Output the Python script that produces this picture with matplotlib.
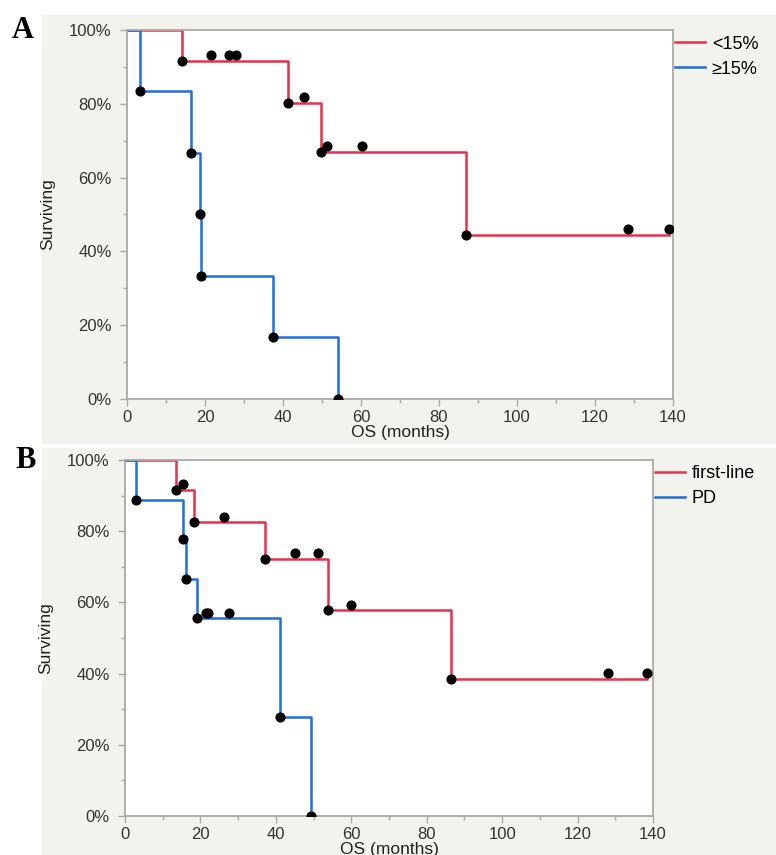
import matplotlib

matplotlib.use("Agg")
import matplotlib.pyplot as plt
import numpy as np
from matplotlib.lines import Line2D
from matplotlib.patches import Rectangle
from matplotlib.ticker import MultipleLocator, PercentFormatter

# panel A: OS by marker level
a_low_times = [14.0, 21.5, 26.2, 28.0, 41.4, 45.4, 49.7, 51.4, 60.2, 86.9, 128.5, 138.9]
a_low_events = [1, 0, 0, 0, 1, 0, 1, 0, 0, 1, 0, 0]
a_high_times = [3.3, 16.4, 18.7, 19.0, 37.4, 54.2]
a_high_events = [1, 1, 1, 1, 1, 1]
a_labels = ["<15%", "≥15%"]

# panel B: OS by treatment line
b_first_times = [13.5, 15.3, 18.4, 26.3, 37.1, 45.1, 51.1, 53.9, 59.9, 86.5, 128.2, 138.4]
b_first_events = [1, 0, 1, 0, 1, 0, 0, 1, 0, 1, 0, 0]
b_pd_times = [2.9, 15.3, 16.2, 19.0, 21.5, 22.1, 27.7, 41.0, 49.3]
b_pd_events = [1, 1, 1, 1, 0, 0, 0, 1, 1]
b_labels = ["first-line", "PD"]

RED = "#e8304c"
BLUE = "#1f6fdc"
GRID_GRAY = "#a9a9a9"
PANEL_BG = "#f3f3ee"
CENSOR_LIFT = 0.016

W, H = 776, 855


def kaplan_meier(times, events):
    order = np.argsort(times, kind="stable")
    t = np.asarray(times)[order]
    e = np.asarray(events)[order]
    at_risk = len(t)
    s = 1.0
    xs, ys = [0.0], [1.0]
    ev_pts, cens_pts = [], []
    for ti, ei in zip(t, e):
        if ei:
            s *= (at_risk - 1) / at_risk
            xs.append(ti)
            ys.append(s)
            ev_pts.append((ti, s))
        else:
            cens_pts.append((ti, s))
        at_risk -= 1
    xs.append(t[-1])
    ys.append(s)
    return xs, ys, ev_pts, cens_pts


def draw_curve(ax, times, events, color):
    xs, ys, ev_pts, cens_pts = kaplan_meier(times, events)
    ax.plot(xs, ys, drawstyle="steps-post", color=color, lw=1.8, zorder=2)
    if ev_pts:
        ex, ey = zip(*ev_pts)
        ax.plot(ex, ey, "o", color="black", ms=6.3, zorder=3)
    if cens_pts:
        cx, cy = zip(*cens_pts)
        ax.plot(cx, np.array(cy) + CENSOR_LIFT, "o", color="black", ms=6.3, zorder=3)


def style_axes(ax):
    ax.set_xlim(0, 140)
    ax.set_ylim(0, 1)
    ax.xaxis.set_major_locator(MultipleLocator(20))
    ax.xaxis.set_minor_locator(MultipleLocator(10))
    ax.yaxis.set_major_locator(MultipleLocator(0.2))
    ax.yaxis.set_minor_locator(MultipleLocator(0.1))
    ax.yaxis.set_major_formatter(PercentFormatter(1.0, decimals=0))
    for sp in ax.spines.values():
        sp.set_color(GRID_GRAY)
        sp.set_linewidth(1.3)
    ax.tick_params(which="major", length=5, width=1, color=GRID_GRAY,
                   labelsize=12, labelcolor="#333333")
    ax.tick_params(which="minor", length=3, width=1, color=GRID_GRAY)
    ax.tick_params(axis="y", which="major", pad=6)
    ax.tick_params(axis="x", which="major", pad=3)
    ax.set_xlabel("OS (months)", fontsize=12.5, color="#222222", labelpad=0)
    ax.set_ylabel("Surviving", fontsize=12.5, color="#222222", labelpad=10)


def add_legend(ax, labels, dy):
    handles = [Line2D([], [], color=RED, lw=1.8), Line2D([], [], color=BLUE, lw=1.8)]
    ax.legend(handles, labels, loc="upper left", bbox_to_anchor=(1.003, dy),
              frameon=False, fontsize=13, handlelength=1.7, handletextpad=0.35,
              labelspacing=0.45, borderpad=0, borderaxespad=0)


plt.rcParams["font.family"] = ["Liberation Sans", "DejaVu Sans"]

fig = plt.figure(figsize=(W / 100, H / 100), dpi=100, facecolor="white")

# grey panel backgrounds
fig.patches.append(Rectangle((42 / W, 1 - 443 / H), 1 - 42 / W, 428 / H,
                             transform=fig.transFigure, color=PANEL_BG, zorder=-1))
fig.patches.append(Rectangle((42 / W, 0), 1 - 42 / W, 1 - 448 / H,
                             transform=fig.transFigure, color=PANEL_BG, zorder=-1))

ax_a = fig.add_axes([127 / W, 1 - 399 / H, 546 / W, 369 / H])
draw_curve(ax_a, a_low_times, a_low_events, RED)
draw_curve(ax_a, a_high_times, a_high_events, BLUE)
style_axes(ax_a)
add_legend(ax_a, a_labels, 0.985)

ax_b = fig.add_axes([125 / W, 1 - 816 / H, 528 / W, 356 / H])
draw_curve(ax_b, b_first_times, b_first_events, RED)
draw_curve(ax_b, b_pd_times, b_pd_events, BLUE)
style_axes(ax_b)
add_legend(ax_b, b_labels, 0.985)

fig.text(23 / W, 1 - 31 / H, "A", family="Liberation Serif", weight="bold",
         fontsize=22, ha="center", va="center")
fig.text(26 / W, 1 - 460 / H, "B", family="Liberation Serif", weight="bold",
         fontsize=22, ha="center", va="center")

fig.savefig("out.png", dpi=100, facecolor=fig.get_facecolor())
